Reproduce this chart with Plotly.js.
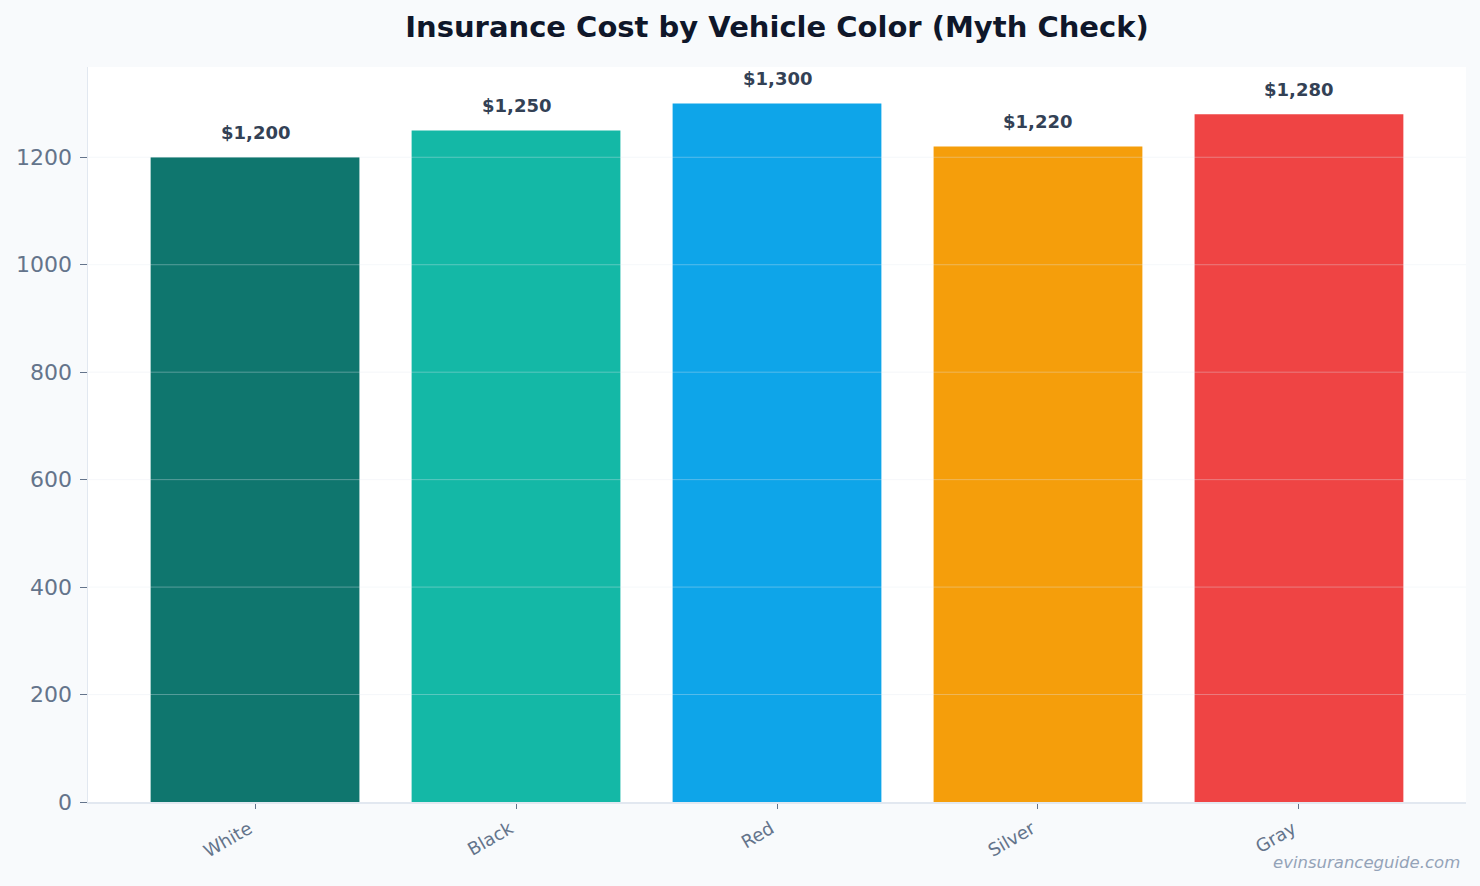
<!DOCTYPE html>
<html>
<head>
<meta charset="utf-8">
<script src="https://cdn.plot.ly/plotly-3.0.1.min.js"></script>
<style>
  html, body { margin: 0; padding: 0; background: #f8fafc; }
  #chart { width: 1480px; height: 886px; }
</style>
</head>
<body>
<div id="chart"></div>
<script>
// Average annual premium by vehicle colour
const colors = ["White", "Black", "Red", "Silver", "Gray"];
const premiums = [1200, 1250, 1300, 1220, 1280];
const barColors = ["#0f766e", "#14b8a6", "#0ea5e9", "#f59e0b", "#ef4444"];
const yTicks = [0, 200, 400, 600, 800, 1000, 1200];

const font = "DejaVu Sans, sans-serif";
const idx = colors.map((_, i) => i);

const trace = {
  type: "bar",
  x: idx,
  y: premiums,
  width: 0.8,
  marker: { color: barColors, line: { width: 0 } },
  hoverinfo: "skip"
};

// Value labels above each bar
const labels = premiums.map((v, i) => ({
  x: idx[i], y: v, xref: "x", yref: "y",
  text: "<b>$" + v.toLocaleString("en-US") + "</b>",
  showarrow: false, yanchor: "middle", yshift: 25,
  font: { family: font, size: 18, color: "#334155" }
}));

// Horizontal grid drawn over the bars
const grid = yTicks.filter(t => t > 0).map(t => ({
  type: "line", xref: "paper", yref: "y",
  x0: 0, x1: 1, y0: t, y1: t, layer: "above",
  line: { color: "rgba(226,232,240,0.35)", width: 1 }
}));

const layout = {
  width: 1480, height: 886,
  paper_bgcolor: "#f8fafc",
  plot_bgcolor: "#ffffff",
  margin: { l: 88, r: 14, t: 67, b: 84 },
  showlegend: false,
  font: { family: font, color: "#64748b" },
  title: {
    text: "<b>Insurance Cost by Vehicle Color (Myth Check)</b>",
    x: 0.5, xref: "paper", y: 0.97, yanchor: "middle",
    font: { family: font, size: 29, color: "#0f172a" }
  },
  xaxis: {
    range: [-0.64, 4.64],
    tickmode: "array", tickvals: idx, ticktext: colors,
    tickangle: -30,
    ticks: "outside", ticklen: 5, tickcolor: "#64748b", tickwidth: 1,
    ticklabelshift: -6, ticklabelstandoff: 3,
    tickfont: { family: font, size: 18, color: "#64748b" },
    showgrid: false, zeroline: false,
    showline: true, linecolor: "#e2e8f0", linewidth: 1.5
  },
  yaxis: {
    range: [0, 1368],
    tickmode: "array", tickvals: yTicks,
    ticks: "outside", ticklen: 7, tickcolor: "#64748b", tickwidth: 1,
    ticklabelstandoff: 3,
    tickfont: { family: font, size: 22, color: "#64748b" },
    showgrid: false, zeroline: false,
    showline: true, linecolor: "#e2e8f0", linewidth: 1.5
  },
  shapes: grid,
  annotations: labels.concat([{
    text: "<i>evinsuranceguide.com</i>",
    xref: "paper", yref: "paper", x: 1, y: 0, xanchor: "right", yanchor: "middle",
    xshift: -4, yshift: -60, showarrow: false,
    font: { family: font, size: 16.5, color: "#94a3b8" }
  }])
};

Plotly.newPlot("chart", [trace], layout, { displayModeBar: false, staticPlot: true });
</script>
</body>
</html>
